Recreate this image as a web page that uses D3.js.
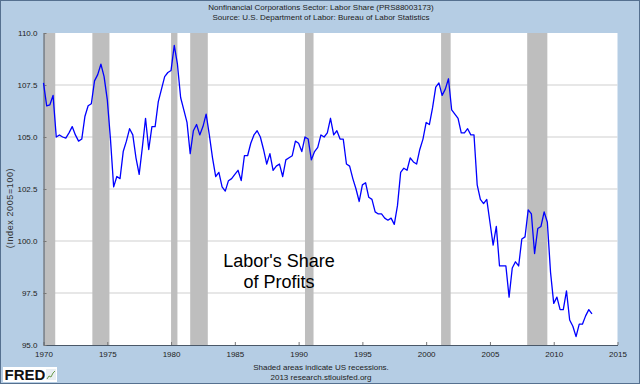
<!DOCTYPE html>
<html>
<head>
<meta charset="utf-8">
<script src="https://cdn.jsdelivr.net/npm/d3@7"></script>
<style>
  body { margin: 0; background: #b5cde4; }
  text { font-family: "Liberation Sans", Arial, sans-serif; }
</style>
</head>
<body>
<div id="chart-container"></div>
<script>
// quarterly labor share index, 1970Q1 .. 2013Q1
const startYear = 1970;
const labShare = [
  107.6, 106.5, 106.55, 107.0, 105.0, 105.1, 105.0, 104.95, 105.2, 105.5,
  105.1, 104.8, 104.9, 106.0, 106.5, 106.6, 107.7, 108.0, 108.5, 107.9,
  106.8, 104.9, 102.6, 103.1, 103.0, 104.3, 104.8, 105.4, 105.1, 104.0,
  103.2, 104.5, 105.9, 104.4, 105.5, 105.5, 106.7, 107.3, 107.9, 108.1,
  108.2, 109.4, 108.5, 106.9, 106.3, 105.7, 104.2, 105.3, 105.6, 105.1,
  105.5, 106.1, 105.1, 104.0, 103.1, 103.3, 102.6, 102.4, 102.9, 103.0,
  103.2, 103.4, 102.9, 104.1, 104.1, 104.7, 105.1, 105.3, 105.0, 104.4,
  103.7, 104.2, 103.4, 103.6, 103.7, 103.1, 103.9, 104.0, 104.1, 104.8,
  104.7, 104.3, 105.0, 104.9, 103.9, 104.3, 104.5, 105.1, 105.0, 105.2,
  105.9, 105.1, 105.3, 104.9, 104.9, 103.7, 103.6, 103.0, 102.5, 101.9,
  102.7, 102.8, 102.1, 102.0, 101.4, 101.3, 101.3, 101.1, 101.0, 101.1,
  100.8, 101.7, 103.3, 103.5, 103.4, 104.0, 103.8, 103.7, 104.4, 104.9,
  105.7, 105.6, 106.4, 107.4, 107.6, 107.0, 107.3, 107.8, 106.3, 106.1,
  105.9, 105.2, 105.2, 105.4, 105.1, 105.1, 102.7, 102.0, 101.8, 102.0,
  100.9, 99.8, 100.7, 98.8, 98.8, 98.8, 97.3, 98.7, 99.0, 98.8,
  100.1, 100.2, 101.5, 101.3, 99.4, 100.6, 100.7, 101.4, 100.9, 98.5,
  97.0, 97.3, 96.7, 96.7, 97.6, 96.2, 95.9, 95.4, 96.0, 96.0,
  96.4, 96.7, 96.5
];

// NBER recessions as decimal years [start, end]
const recessions = [
  [1969.92, 1970.92], [1973.83, 1975.17], [1980.0, 1980.5], [1981.5, 1982.88],
  [1990.5, 1991.17], [2001.17, 2001.92], [2007.92, 2009.5]
];

const yearTicks = [1970, 1975, 1980, 1985, 1990, 1995, 2000, 2005, 2010, 2015];
const valueTicks = [95, 97.5, 100, 102.5, 105, 107.5, 110];

const titleLines = [
  "Nonfinancial Corporations Sector: Labor Share (PRS88003173)",
  "Source: U.S. Department of Labor: Bureau of Labor Statistics"
];
const footLines = ["Shaded areas indicate US recessions.", "2013 research.stlouisfed.org"];
const noteLines = ["Labor's Share", "of Profits"];

const W = 640, H = 384;
const plot = {left: 43.5, right: 617.5, top: 33, bottom: 345};

const data = labShare.map((v, i) => ({date: startYear + i / 4, value: v}));

const x = d3.scaleLinear().domain([1970, 2015]).range([plot.left, plot.right]);
const y = d3.scaleLinear().domain([95, 110]).range([plot.bottom, plot.top]);

const svg = d3.select("#chart-container")
  .append("svg")
  .attr("width", W)
  .attr("height", H)
  .style("display", "block");

// background + frame
svg.append("rect")
  .attr("x", 0.5).attr("y", 0.5)
  .attr("width", W - 1).attr("height", H - 1)
  .attr("fill", "#b5cde4")
  .attr("stroke", "#55708f")
  .attr("stroke-width", 1);

// titles
svg.selectAll(".title")
  .data(titleLines)
  .join("text")
  .attr("class", "title")
  .attr("x", 321)
  .attr("y", (d, i) => 10 + i * 10)
  .attr("text-anchor", "middle")
  .style("font-size", "8px")
  .style("fill", "#222")
  .text(d => d);

// plot area
svg.append("rect")
  .attr("x", plot.left).attr("y", plot.top)
  .attr("width", plot.right - plot.left)
  .attr("height", plot.bottom - plot.top)
  .attr("fill", "#fff");

// horizontal gridlines
svg.selectAll(".grid")
  .data(valueTicks.slice(1, -1))
  .join("line")
  .attr("class", "grid")
  .attr("x1", plot.left).attr("x2", plot.right)
  .attr("y1", d => y(d)).attr("y2", d => y(d))
  .attr("stroke", "#cfcfcf")
  .attr("stroke-width", 1);

// recession bars
svg.selectAll(".rec")
  .data(recessions)
  .join("rect")
  .attr("class", "rec")
  .attr("x", d => x(Math.max(d[0], 1970)))
  .attr("width", d => x(d[1]) - x(Math.max(d[0], 1970)))
  .attr("y", plot.top)
  .attr("height", plot.bottom - plot.top)
  .attr("fill", "#bebebe");

// axes
const xAxis = svg.append("g")
  .attr("transform", `translate(0,${plot.bottom})`)
  .call(d3.axisBottom(x)
    .tickValues(yearTicks)
    .tickFormat(d3.format("d"))
    .tickSizeInner(-3)
    .tickSizeOuter(0)
    .tickPadding(6));
xAxis.select(".domain").attr("stroke", "#4a5868");
xAxis.selectAll(".tick line").attr("stroke", "#777");
xAxis.selectAll(".tick text")
  .style("font-size", "8px")
  .style("font-family", "Liberation Sans, Arial, sans-serif")
  .attr("fill", "#222");

const yAxis = svg.append("g")
  .attr("transform", `translate(${plot.left},0)`)
  .call(d3.axisLeft(y)
    .tickValues(valueTicks)
    .tickFormat(d3.format(".1f"))
    .tickSizeInner(-3)
    .tickSizeOuter(0)
    .tickPadding(6));
yAxis.select(".domain").attr("stroke", "#4a5868");
yAxis.selectAll(".tick line").attr("stroke", "#777");
yAxis.selectAll(".tick text")
  .style("font-size", "8px")
  .style("font-family", "Liberation Sans, Arial, sans-serif")
  .attr("fill", "#222");

// y label
svg.append("text")
  .attr("transform", "translate(13,208) rotate(-90)")
  .attr("text-anchor", "middle")
  .style("font-size", "9px")
  .style("letter-spacing", "0.6px")
  .style("fill", "#333")
  .text("(Index 2005=100)");

// data line
const line = d3.line()
  .x(d => x(d.date))
  .y(d => y(d.value));

svg.append("path")
  .datum(data)
  .attr("fill", "none")
  .attr("stroke", "#0000ff")
  .attr("stroke-width", 1.3)
  .attr("stroke-linejoin", "round")
  .attr("d", line);

// annotation
svg.selectAll(".note")
  .data(noteLines)
  .join("text")
  .attr("class", "note")
  .attr("x", 279)
  .attr("y", (d, i) => 267 + i * 21)
  .attr("text-anchor", "middle")
  .style("font-size", "18px")
  .style("fill", "#000")
  .text(d => d);

// footer
svg.selectAll(".foot")
  .data(footLines)
  .join("text")
  .attr("class", "foot")
  .attr("x", 321)
  .attr("y", (d, i) => 370 + i * 10)
  .attr("text-anchor", "middle")
  .style("font-size", "8px")
  .style("fill", "#222")
  .text(d => d);

// FRED badge
const badge = svg.append("g").attr("transform", "translate(3,367)");
badge.append("rect")
  .attr("width", 54).attr("height", 15)
  .attr("fill", "#fff");
badge.append("text")
  .attr("x", 1.5).attr("y", 13)
  .style("font-size", "15px")
  .style("font-weight", "bold")
  .style("fill", "#111")
  .style("font-family", "Liberation Sans, Arial, sans-serif")
  .text("FRED");
badge.append("rect")
  .attr("x", 43).attr("y", 2)
  .attr("width", 10).attr("height", 11)
  .attr("fill", "#e8eef2");
badge.append("polyline")
  .attr("points", "44,12 46,9 48,10 50,6 52,4")
  .attr("fill", "none")
  .attr("stroke", "#6a9a4a")
  .attr("stroke-width", 1);
</script>
</body>
</html>
